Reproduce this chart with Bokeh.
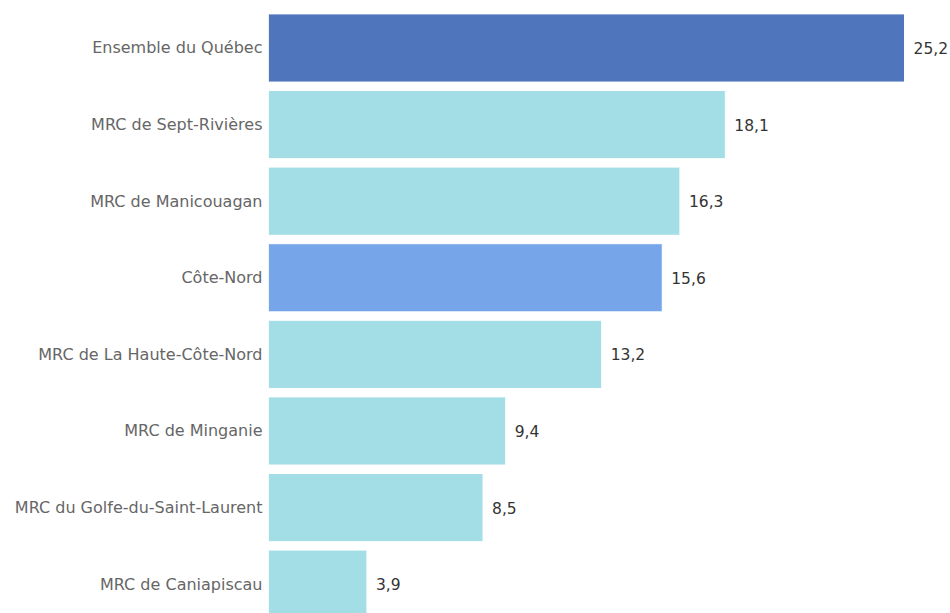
from bokeh.plotting import figure
from bokeh.models import Range1d, FixedTicker, ColumnDataSource
from bokeh.embed import file_html
from bokeh.resources import INLINE
from bokeh.core.properties import value

categories = ["Ensemble du Québec", "MRC de Sept-Rivières", "MRC de Manicouagan", "Côte-Nord",
              "MRC de La Haute-Côte-Nord", "MRC de Minganie", "MRC du Golfe-du-Saint-Laurent",
              "MRC de Caniapiscau"]
values = [25.2, 18.1, 16.3, 15.6, 13.2, 9.4, 8.5, 3.9]
colors = ["#4f76bd", "#a3dee6", "#a3dee6", "#76a5ea", "#a3dee6", "#a3dee6", "#a3dee6", "#a3dee6"]

pos = list(range(len(categories)))
labels = [f"{v:.1f}".replace(".", ",") for v in values]

src = ColumnDataSource(dict(y=pos, v=values, c=colors, lab=labels))

p = figure(width=950, height=613, output_backend="svg", toolbar_location=None,
           x_range=Range1d(0, 27.02), y_range=Range1d(7.383, -0.62),
           min_border_left=268, min_border_right=0, min_border_top=0, min_border_bottom=0)
p.hbar(y="y", right="v", left=0, height=0.89, fill_color="c", line_color="white",
       line_width=1, source=src)
p.text(x="v", y="y", text="lab", x_offset=9, text_align="left", text_baseline="middle",
       text_font=value("DejaVu Sans"), text_font_size="15.5px", text_color="#333333", source=src)

p.xaxis.visible = False
p.yaxis.ticker = FixedTicker(ticks=pos)
p.yaxis.major_label_overrides = {i: c for i, c in enumerate(categories)}
p.yaxis.axis_line_color = None
p.yaxis.major_tick_line_color = None
p.yaxis.minor_tick_line_color = None
p.yaxis.major_tick_in = 0
p.yaxis.major_tick_out = 0
p.yaxis.major_label_standoff = 6
p.yaxis.major_label_text_font = "DejaVu Sans"
p.yaxis.major_label_text_font_size = "16px"
p.yaxis.major_label_text_color = "#666666"
p.xgrid.visible = False
p.ygrid.visible = False
p.outline_line_color = None

open("out.html", "w").write(file_html(p, INLINE))
